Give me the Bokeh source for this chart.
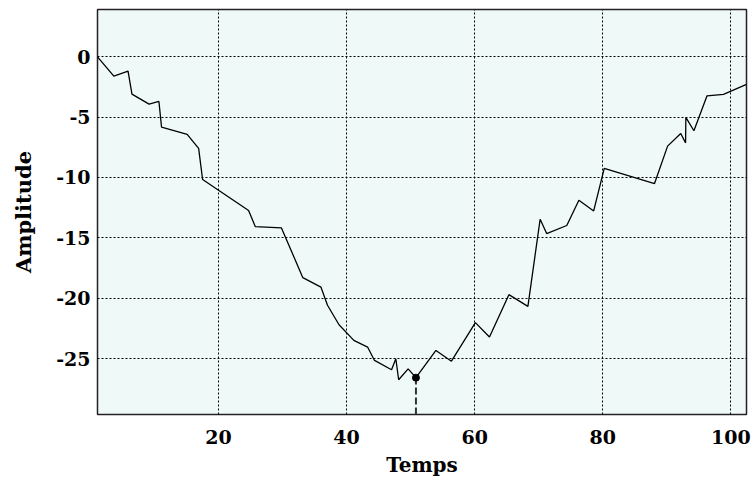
from bokeh.plotting import figure
from bokeh.models import Range1d, FixedTicker
from bokeh.embed import file_html
from bokeh.resources import INLINE

# Data
temps = [1.11, 3.66, 5.88, 6.49, 9.16, 10.70, 11.11, 15.11, 16.90, 17.52,
         24.70, 25.74, 29.83, 33.17, 35.99, 37.02, 38.82, 41.13, 43.28, 44.36,
         47.02, 47.69, 48.13, 49.61, 50.83, 53.95, 56.37, 60.11, 62.31, 65.34,
         68.31, 70.22, 71.24, 74.38, 76.27, 78.58, 80.23, 88.08, 90.12, 92.17,
         92.93, 92.97, 94.23, 96.28, 98.85, 102.44]
amplitude = [0.0, -1.60, -1.18, -3.09, -3.92, -3.70, -5.83, -6.43, -7.59, -10.17,
             -12.74, -14.07, -14.18, -18.30, -19.08, -20.59, -22.20, -23.50, -24.05, -25.16,
             -25.93, -25.02, -26.76, -25.86, -26.59, -24.33, -25.22, -22.03, -23.22, -19.71,
             -20.68, -13.46, -14.65, -13.98, -11.88, -12.77, -9.25, -10.50, -7.40, -6.35,
             -7.13, -5.02, -6.13, -3.23, -3.11, -2.29]
marked_x = 50.83
marked_y = -26.59

x_ticks = [20, 40, 60, 80, 100]
y_ticks = [0, -5, -10, -15, -20, -25]
y_tick_labels = ["0", "-5", "-10", "-15", "-20", "-25"]
y_limits = (-29.64, 3.92)

FONT = "DejaVu Serif"

p = figure(width=755, height=482, output_backend="svg", toolbar_location=None,
           x_range=Range1d(temps[0], temps[-1]), y_range=Range1d(*y_limits),
           min_border_left=97, min_border_right=9, min_border_top=9, min_border_bottom=68)

p.background_fill_color = "#eff9f7"
p.border_fill_color = "white"
p.outline_line_color = "#222222"
p.outline_line_width = 1.5

p.xaxis.ticker = FixedTicker(ticks=x_ticks)
p.yaxis.ticker = FixedTicker(ticks=y_ticks)
p.yaxis.major_label_overrides = dict(zip(y_ticks, y_tick_labels))

for ax in (p.xaxis, p.yaxis):
    ax.axis_line_color = None
    ax.major_tick_line_color = None
    ax.minor_tick_line_color = None
    ax.major_tick_out = 0
    ax.major_tick_in = 0
    ax.major_label_text_font = FONT
    ax.major_label_text_font_style = "bold"
    ax.major_label_text_font_size = "19px"
    ax.major_label_text_color = "black"
    ax.axis_label_text_font = FONT
    ax.axis_label_text_font_style = "bold"
    ax.axis_label_text_color = "black"

p.xaxis.axis_label = "Temps"
p.yaxis.axis_label = "Amplitude"
p.xaxis.axis_label_text_font_size = "20px"
p.yaxis.axis_label_text_font_size = "21px"
p.xaxis.major_label_standoff = 15
p.xaxis.axis_label_standoff = 6
p.yaxis.major_label_standoff = 7
p.yaxis.axis_label_standoff = 17

p.grid.grid_line_color = "black"
p.grid.grid_line_dash = "2 2"
p.grid.grid_line_width = 1
p.grid.grid_line_alpha = 1.0

p.line(temps, amplitude, line_color="black", line_width=1.3)
p.segment(x0=[marked_x], y0=[y_limits[0]], x1=[marked_x], y1=[marked_y],
          line_color="#333333", line_width=2, line_dash="7 3")
p.scatter([marked_x], [marked_y], size=7, color="black")

open("out.html", "w").write(file_html(p, INLINE))
